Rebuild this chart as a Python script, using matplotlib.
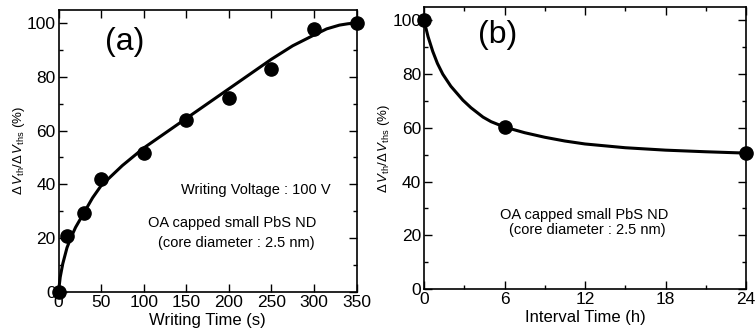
import matplotlib
matplotlib.use("Agg")
import matplotlib.pyplot as plt
from matplotlib.ticker import MultipleLocator

plt.rcParams['font.family'] = ['Liberation Sans', 'DejaVu Sans']
plt.rcParams['mathtext.fontset'] = 'custom'
plt.rcParams['mathtext.rm'] = 'Liberation Sans'
plt.rcParams['mathtext.it'] = 'Liberation Sans:italic'

# (a) writing time dependence
t_write = [0, 10, 30, 50, 100, 150, 200, 250, 300, 350]
dv_write = [0, 21, 29.5, 42, 51.5, 64, 72, 83, 97.7, 100]
# fitted curve
fit_a_x = [0, 2, 5, 10, 15, 20, 30, 40, 50, 75, 100, 125, 150, 175, 200,
           225, 250, 275, 300, 315, 330, 340, 350]
fit_a_y = [0, 5.5, 10.5, 16.5, 20.5, 24, 29.5, 35, 39.5, 47, 53.5, 59, 64.5,
           70, 75.5, 81, 86.5, 91.5, 95.5, 97.8, 99.2, 99.7, 100]

# (b) retention vs interval time
t_int = [0, 6, 24]
dv_int = [100, 60.3, 50.5]
fit_b_x = [0, 0.3, 0.65, 1, 1.4, 2, 2.9, 3.5, 4.4, 5, 6, 7.5, 9, 10.5, 12,
           15, 18, 21, 24]
fit_b_y = [100, 94, 88.5, 84, 80, 75.5, 70.3, 67.5, 64, 62.3, 60.3, 58.2,
           56.5, 55.1, 54, 52.6, 51.7, 51.1, 50.6]

ylab = r'$\Delta\,V_{\rm th}/\Delta\,V_{\rm ths}$ (%)'

fig = plt.figure(figsize=(7.55, 3.35), dpi=100)
ax1 = fig.add_axes([58.5/755, 43/335, 298/755, 282.5/335])
ax2 = fig.add_axes([424/755, 46/335, 322/755, 282/335])

for ax in (ax1, ax2):
    ax.set_ylim(0, 105)
    ax.yaxis.set_major_locator(MultipleLocator(20))
    ax.yaxis.set_minor_locator(MultipleLocator(10))
    ax.tick_params(which='both', direction='in', top=True, right=True,
                   labelsize=12.5, width=1)
    ax.tick_params(which='major', length=6, pad=2)
    ax.tick_params(which='minor', length=3)
    for s in ax.spines.values():
        s.set_linewidth(1.2)
    ax.set_ylabel(ylab, fontsize=9.5, labelpad=0)

ax1.plot(fit_a_x, fit_a_y, color='black', lw=2.2, clip_on=False)
ax1.plot(t_write, dv_write, 'o', color='black', ms=9.5, clip_on=False, zorder=5)
ax1.set_xlim(0, 350)
ax1.xaxis.set_major_locator(MultipleLocator(50))
ax1.set_xlabel('Writing Time (s)', fontsize=12, labelpad=2)
ax1.text(0.222, 0.885, '(a)', transform=ax1.transAxes, fontsize=23,
         ha='center', va='center')
ax1.text(0.41, 0.36, 'Writing Voltage : 100 V', transform=ax1.transAxes,
         fontsize=10.5, ha='left', va='center')
ax1.text(0.30, 0.243, 'OA capped small PbS ND', transform=ax1.transAxes,
         fontsize=10.5, ha='left', va='center')
ax1.text(0.335, 0.175, '(core diameter : 2.5 nm)', transform=ax1.transAxes,
         fontsize=10.5, ha='left', va='center')

ax2.plot(fit_b_x, fit_b_y, color='black', lw=2.2, clip_on=False)
ax2.plot(t_int, dv_int, 'o', color='black', ms=9.5, clip_on=False, zorder=5)
ax2.set_xlim(0, 24)
ax2.xaxis.set_major_locator(MultipleLocator(6))
ax2.xaxis.set_minor_locator(MultipleLocator(3))
ax2.set_xlabel('Interval Time (h)', fontsize=12, labelpad=2)
ax2.text(0.23, 0.9, '(b)', transform=ax2.transAxes, fontsize=23,
         ha='center', va='center')
ax2.text(0.235, 0.262, 'OA capped small PbS ND', transform=ax2.transAxes,
         fontsize=10.5, ha='left', va='center')
ax2.text(0.263, 0.21, '(core diameter : 2.5 nm)', transform=ax2.transAxes,
         fontsize=10.5, ha='left', va='center')

fig.savefig('out.png', dpi=100)
